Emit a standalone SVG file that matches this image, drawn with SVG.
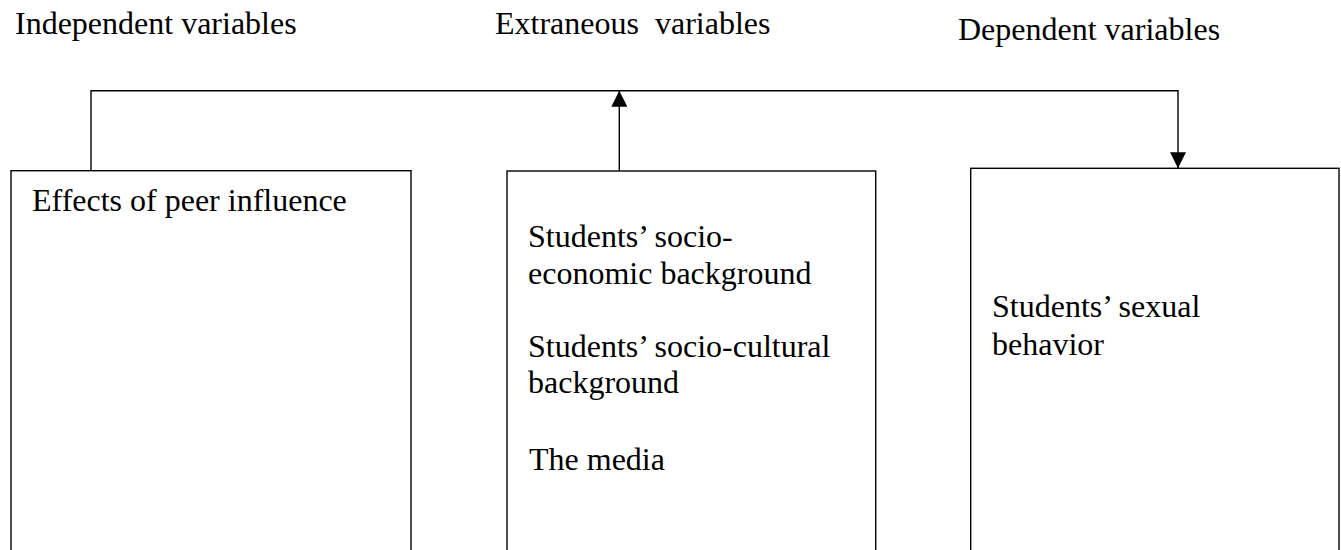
<svg xmlns="http://www.w3.org/2000/svg" width="1341" height="550" viewBox="0 0 1341 550" font-family="'Liberation Serif', 'Times New Roman', Times, serif">
<style>
  text { font-family: 'Liberation Serif', 'Times New Roman', Times, serif; font-size: 32px; fill: #000; white-space: pre; }
  .box { fill: #fff; stroke: #000; stroke-width: 1.4; }
  .conn { fill: none; stroke: #000; stroke-width: 1.4; }
</style>
<defs>
  <marker id="arrow" markerUnits="userSpaceOnUse" markerWidth="16" markerHeight="16" viewBox="0 0 16 16" refX="16" refY="8" orient="auto">
    <path d="M0,0 L16,8 L0,16 Z" fill="#000"/>
  </marker>
</defs>
<rect width="1341" height="550" fill="#fff"/>
<g id="headers">
  <text x="15" y="34">Independent variables</text>
  <text x="495" y="34">Extraneous  variables</text>
  <text x="958" y="40">Dependent variables</text>
</g>
<g id="independent">
  <rect class="box" x="11" y="170.7" width="400" height="400"/>
  <text x="32" y="211">Effects of peer influence</text>
</g>
<g id="extraneous">
  <rect class="box" x="507" y="171" width="368.7" height="400"/>
  <text x="528" y="247">Students’ socio-</text>
  <text x="528" y="284">economic background</text>
  <text x="528" y="357">Students’ socio-cultural</text>
  <text x="528" y="393">background</text>
  <text x="529" y="470">The media</text>
</g>
<g id="dependent">
  <rect class="box" x="970.7" y="168.3" width="368.3" height="400"/>
  <text x="992" y="317">Students’ sexual</text>
  <text x="992" y="355">behavior</text>
</g>
<g id="connectors">
  <polyline class="conn" points="91,170.7 91,90.7 1178,90.7 1178,168.3" marker-end="url(#arrow)"/>
  <line class="conn" x1="619.3" y1="171" x2="619.3" y2="90.7" marker-end="url(#arrow)"/>
</g>
</svg>
